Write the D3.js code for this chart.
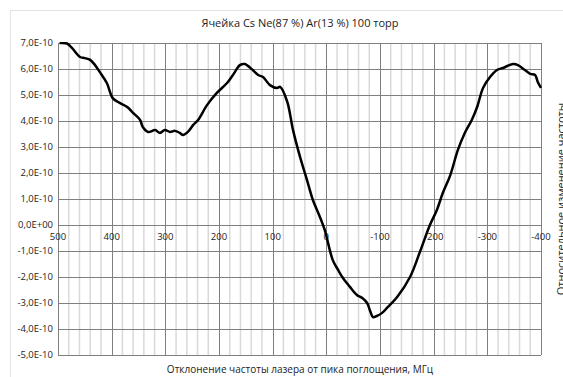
<!DOCTYPE html>
<html>
<head>
<meta charset="utf-8">
<script src="https://cdn.jsdelivr.net/npm/d3@7"></script>
<style>
  body { margin: 0; background: #fff; }
  svg { display: block; font-family: "Open Sans", sans-serif; }
</style>
</head>
<body>
<div id="chart"></div>
<script>
// frequency offset, MHz
const freq = [497, 483, 474, 459, 450, 440, 431, 422, 409, 398, 388, 371, 360, 347, 342, 332,
  319, 310, 301, 291, 282, 273, 267, 258, 248, 239, 222, 204, 185, 174, 161, 152, 137, 127,
  118, 105, 92, 86, 73, 62, 49, 36, 25, 12, 3, -12, -22, -31, -44, -57, -67, -76, -81, -87,
  -94, -104, -113, -132, -156, -175, -193, -206, -217, -231, -245, -258, -271, -281, -292,
  -305, -318, -329, -348, -357, -370, -380, -389, -394, -400];
// signal, units of 1E-10
const signal = [7.0, 6.98, 6.81, 6.46, 6.42, 6.35, 6.15, 5.88, 5.46, 4.88, 4.73, 4.54, 4.31,
  4.04, 3.77, 3.58, 3.65, 3.54, 3.65, 3.58, 3.62, 3.54, 3.46, 3.58, 3.85, 4.04, 4.62, 5.08,
  5.46, 5.77, 6.15, 6.19, 5.96, 5.77, 5.69, 5.38, 5.27, 5.31, 4.75, 3.65, 2.62, 1.73, 0.96,
  0.31, -0.19, -1.35, -1.73, -2.04, -2.38, -2.69, -2.81, -3.0, -3.27, -3.54, -3.5, -3.38,
  -3.19, -2.77, -2.0, -1.0, 0.0, 0.58, 1.23, 1.92, 2.88, 3.54, 4.04, 4.54, 5.27, 5.69, 5.96,
  6.04, 6.19, 6.15, 5.96, 5.81, 5.77, 5.5, 5.27];

const xTicks = [500, 400, 300, 200, 100, 0, -100, -200, -300, -400];
const yTicks = [7, 6, 5, 4, 3, 2, 1, 0, -1, -2, -3, -4, -5];

const width = 563, height = 377;
const plotLeft = 58, plotRight = 541, plotTop = 43, plotBottom = 355;

const svg = d3.select("#chart").append("svg")
  .attr("width", width)
  .attr("height", height);

// chart area border
svg.append("rect")
  .attr("x", 10.5).attr("y", 10.5)
  .attr("width", 600).attr("height", 400)
  .attr("fill", "none")
  .attr("stroke", "#e3e3e3");

svg.append("clipPath").attr("id", "plot-clip")
  .append("rect")
  .attr("x", plotLeft).attr("y", plotTop - 1)
  .attr("width", plotRight - plotLeft + 2).attr("height", plotBottom - plotTop + 2);

const x = d3.scaleLinear().domain([500, -400]).range([plotLeft, plotRight]);
const y = d3.scaleLinear().domain([-5, 7]).range([plotBottom, plotTop]);

// minor vertical grid every 20 MHz
const minor = d3.range(480, -400, -20).filter(d => d % 100 !== 0);
svg.append("g").selectAll("line").data(minor).join("line")
  .attr("x1", d => x(d)).attr("x2", d => x(d))
  .attr("y1", plotTop).attr("y2", plotBottom)
  .attr("stroke", "#d9d9d9").attr("stroke-width", 1.5);

// major vertical grid
svg.append("g").selectAll("line").data(xTicks).join("line")
  .attr("x1", d => Math.round(x(d)) + 0.5).attr("x2", d => Math.round(x(d)) + 0.5)
  .attr("y1", plotTop).attr("y2", plotBottom)
  .attr("stroke", "#7f7f7f").attr("stroke-width", 1);

// horizontal grid
svg.append("g").selectAll("line").data(yTicks).join("line")
  .attr("x1", plotLeft).attr("x2", plotRight)
  .attr("y1", d => Math.round(y(d)) + 0.5).attr("y2", d => Math.round(y(d)) + 0.5)
  .attr("stroke", "#7f7f7f").attr("stroke-width", 1);

// y tick labels
const fmt = v => v === 0 ? "0,0E+00" : v.toFixed(1).replace(".", ",") + "E-10";
svg.append("g").selectAll("text").data(yTicks).join("text")
  .attr("x", plotLeft - 5)
  .attr("y", d => y(d))
  .attr("dy", "0.35em")
  .attr("text-anchor", "end")
  .attr("font-size", 9.5)
  .attr("fill", "#222")
  .text(fmt);

// x tick labels below the zero line
svg.append("g").selectAll("text").data(xTicks).join("text")
  .attr("x", d => x(d))
  .attr("y", y(0) + 15)
  .attr("text-anchor", "middle")
  .attr("font-size", 9.5)
  .attr("fill", "#222")
  .text(d => d);

// curve
const line = d3.line()
  .x((d, i) => x(freq[i]))
  .y(d => y(d))
  .curve(d3.curveCatmullRom);

svg.append("path")
  .datum(signal)
  .attr("clip-path", "url(#plot-clip)")
  .attr("d", line)
  .attr("fill", "none")
  .attr("stroke", "#000")
  .attr("stroke-width", 2.5)
  .attr("stroke-linejoin", "round");

// title
svg.append("text")
  .attr("x", 300).attr("y", 27)
  .attr("text-anchor", "middle")
  .attr("font-size", 11)
  .attr("fill", "#222")
  .text("Ячейка Cs Ne(87 %) Ar(13 %) 100 торр");

// x axis title
svg.append("text")
  .attr("x", 300).attr("y", 373)
  .attr("text-anchor", "middle")
  .attr("font-size", 10)
  .attr("fill", "#222")
  .text("Отклонение частоты лазера от пика поглощения, МГц");

// y axis title, partly outside the right edge as in the original
svg.append("text")
  .attr("transform", "translate(565,199) rotate(-90)")
  .attr("text-anchor", "middle")
  .attr("font-size", 11)
  .attr("fill", "#222")
  .text("Относительное изменение частоты");
</script>
</body>
</html>
